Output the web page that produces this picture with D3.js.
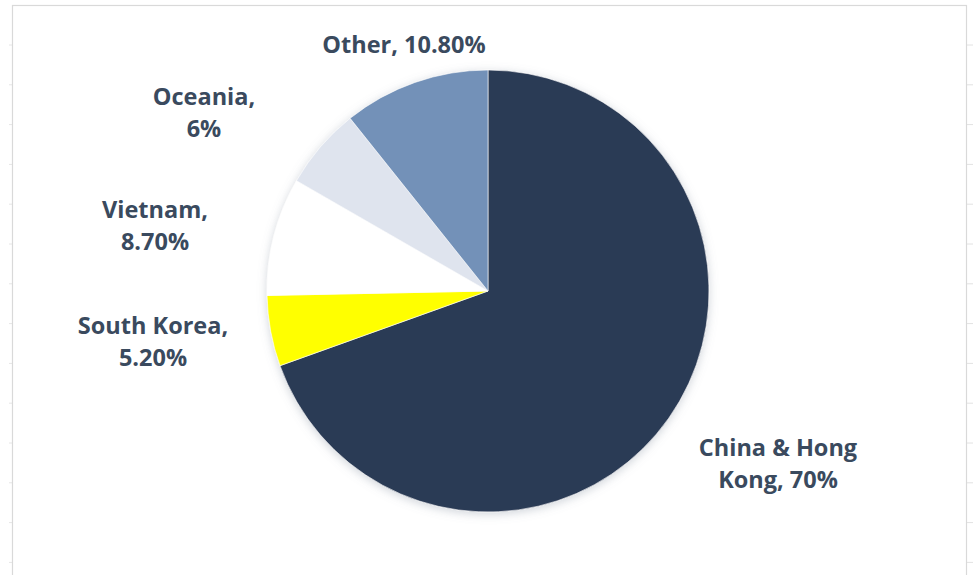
<!DOCTYPE html>
<html>
<head>
<meta charset="utf-8">
<script src="https://cdn.jsdelivr.net/npm/d3@7"></script>
<style>
  html, body { margin: 0; padding: 0; background: #ffffff; }
  svg { display: block; }
</style>
</head>
<body>
<svg id="chart" width="973" height="575"></svg>
<script>
// Share of exports by destination
const regions = ["China & Hong Kong", "South Korea", "Vietnam", "Oceania", "Other"];
const shares  = [70, 5.2, 8.7, 6, 10.8];
const shareLabels = ["70%", "5.20%", "8.70%", "6%", "10.80%"];
const colors  = ["#2c3b55", "#ffff00", "#ffffff", "#dfe4ee", "#7391b8"];

// Label lines as laid out around the pie
const labelLines = [
  ["China & Hong", "Kong, 70%"],
  ["South Korea,", "5.20%"],
  ["Vietnam,", "8.70%"],
  ["Oceania,", "6%"],
  ["Other, 10.80%"]
];
const labelAnchors = [[778, 448], [153, 326], [155, 210], [204, 97], [404, 45]];

const W = 973, H = 575;
const cx = 488, cy = 291, R = 221;

const svg = d3.select("#chart");

// Soft shadow behind the pie
const defs = svg.append("defs");
const f = defs.append("filter").attr("id", "pieShadow")
  .attr("x", "-20%").attr("y", "-20%").attr("width", "140%").attr("height", "140%");
f.append("feDropShadow")
  .attr("dx", 0).attr("dy", 2).attr("stdDeviation", 5)
  .attr("flood-color", "#7a8494").attr("flood-opacity", 0.35);

// Sheet gridline stubs outside the chart frame
const gridY = d3.range(45, H, 39.8);
svg.append("g").selectAll("line.gr").data(gridY).join("line")
  .attr("x1", 966).attr("x2", W).attr("y1", d => d).attr("y2", d => d)
  .attr("stroke", "#e2e2e2").attr("stroke-width", 1);
svg.append("g").selectAll("line.gl").data(gridY).join("line")
  .attr("x1", 9).attr("x2", 12).attr("y1", d => d).attr("y2", d => d)
  .attr("stroke", "#e6e6e6").attr("stroke-width", 1);

// Chart frame
svg.append("rect")
  .attr("x", 12.5).attr("y", 5.5).attr("width", 954).attr("height", H)
  .attr("fill", "#ffffff").attr("stroke", "#d9d9d9").attr("stroke-width", 1.2);

const pie = d3.pie().sort(null).value(d => d).startAngle(0).endAngle(2 * Math.PI);
const arc = d3.arc().innerRadius(0).outerRadius(R);
const arcs = pie(shares);

const g = svg.append("g").attr("transform", `translate(${cx},${cy})`);
g.append("g").attr("filter", "url(#pieShadow)")
  .selectAll("path").data(arcs).join("path")
  .attr("d", arc)
  .attr("fill", (d, i) => colors[i])
  .attr("stroke", "#ffffff").attr("stroke-width", 0.6);

// Data labels
const lineH = 31.5;
const lab = svg.append("g")
  .attr("font-family", "'Open Sans', Lato, sans-serif")
  .attr("font-weight", 700)
  .attr("font-size", 23.5)
  .attr("fill", "#3a4a5e")
  .attr("text-anchor", "middle");

labelLines.forEach((lines, i) => {
  const [x, y] = labelAnchors[i];
  const t = lab.append("text").attr("x", x).attr("y", y);
  lines.forEach((s, k) => {
    t.append("tspan").attr("x", x).attr("dy", k === 0 ? "0.35em" : lineH).text(s);
  });
});
</script>
</body>
</html>
